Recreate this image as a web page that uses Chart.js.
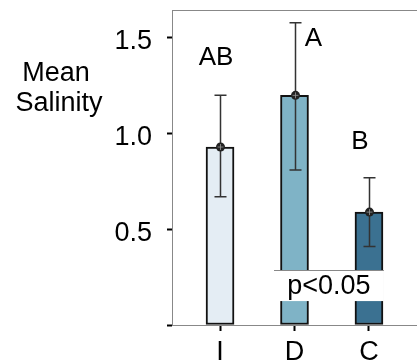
<!DOCTYPE html>
<html>
<head>
<meta charset="utf-8">
<script src="https://cdn.jsdelivr.net/npm/chart.js@4.4.0/dist/chart.umd.min.js"></script>
<style>
  html, body { margin: 0; padding: 0; background: #fff; }
  #wrap { width: 417px; height: 360px; }
</style>
</head>
<body>
<div id="wrap"><canvas id="salinityChart" width="417" height="360"></canvas></div>
<script>
// Chart data
const categories = ['I', 'D', 'C'];
const means = [0.93, 1.20, 0.59];
const errUpper = [1.20, 1.58, 0.77];
const errLower = [0.67, 0.81, 0.41];
const sigLetters = ['AB', 'A', 'B'];
const yTicks = [0, 0.5, 1.0, 1.5];
const yTitle = ['Mean', 'Salinity'];
const pLabel = 'p<0.05';

const barColors = ['#e4edf4', '#7fb3c6', '#3b7191'];
const FONT = '"Liberation Sans", Arial, sans-serif';

// Draws error bars, mean markers, letters, the y title and the p-value box
const annotations = {
    id: 'annotations',
    afterDatasetsDraw(chart) {
        const ctx = chart.ctx;
        const x = chart.scales.x;
        const y = chart.scales.y;
        const area = chart.chartArea;

        ctx.save();

        // top frame line
        ctx.strokeStyle = '#888';
        ctx.lineWidth = 1;
        ctx.beginPath();
        ctx.moveTo(area.left, area.top + 0.5);
        ctx.lineTo(area.right, area.top + 0.5);
        ctx.stroke();

        // error bars
        ctx.strokeStyle = '#333';
        ctx.lineWidth = 1.5;
        categories.forEach((c, i) => {
            const px = Math.round(x.getPixelForValue(i)) + 0.5;
            const top = y.getPixelForValue(errUpper[i]);
            const bot = y.getPixelForValue(errLower[i]);
            ctx.beginPath();
            ctx.moveTo(px, top);
            ctx.lineTo(px, bot);
            ctx.moveTo(px - 6, top);
            ctx.lineTo(px + 6, top);
            ctx.moveTo(px - 6, bot);
            ctx.lineTo(px + 6, bot);
            ctx.stroke();
        });

        // mean markers
        categories.forEach((c, i) => {
            const px = Math.round(x.getPixelForValue(i)) + 0.5;
            const py = y.getPixelForValue(means[i]);
            ctx.fillStyle = '#222';
            ctx.beginPath();
            ctx.arc(px, py, 4.5, 0, Math.PI * 2);
            ctx.fill();
            ctx.strokeStyle = '#999';
            ctx.lineWidth = 0.8;
            ctx.beginPath();
            ctx.moveTo(px - 3, py);
            ctx.lineTo(px + 3, py);
            ctx.moveTo(px, py - 3);
            ctx.lineTo(px, py + 3);
            ctx.stroke();
        });

        // significance letters
        const letterPlace = [{ dx: -4, v: 1.40 }, { dx: 19, v: 1.50 }, { dx: -9, v: 0.96 }];
        ctx.fillStyle = '#000';
        ctx.font = '26px ' + FONT;
        ctx.textAlign = 'center';
        ctx.textBaseline = 'middle';
        sigLetters.forEach((t, i) => {
            const lp = letterPlace[i];
            ctx.fillText(t, x.getPixelForValue(i) + lp.dx, y.getPixelForValue(lp.v) + 1);
        });

        // p-value box
        const bx1 = x.getPixelForValue(0.725);
        const bx2 = x.getPixelForValue(2.2);
        const by1 = Math.round(y.getPixelForValue(0.287)) + 0.5;
        const by2 = y.getPixelForValue(0.125);
        ctx.fillStyle = '#fff';
        ctx.fillRect(bx1, by1, bx2 - bx1, by2 - by1);
        ctx.strokeStyle = '#888';
        ctx.lineWidth = 1;
        ctx.beginPath();
        ctx.moveTo(bx1, by1);
        ctx.lineTo(bx2, by1);
        ctx.stroke();
        ctx.fillStyle = '#000';
        ctx.font = '27px ' + FONT;
        ctx.fillText(pLabel, (bx1 + bx2) / 2, (by1 + by2) / 2 + 1);

        // horizontal y-axis title
        ctx.font = '27px ' + FONT;
        ctx.fillText(yTitle[0], 56, 74);
        ctx.fillText(yTitle[1], 59, 104);

        ctx.restore();
    }
};

function noPadding(scale) {
    scale.paddingTop = 0;
    scale.paddingBottom = 0;
    scale.paddingLeft = 0;
    scale.paddingRight = 0;
}

new Chart(document.getElementById('salinityChart').getContext('2d'), {
    type: 'bar',
    data: {
        datasets: [{
            data: categories.map((c, i) => ({ x: i, y: means[i] })),
            backgroundColor: barColors,
            borderColor: '#111',
            borderWidth: 2,
            borderSkipped: false,
            barThickness: 28
        }]
    },
    options: {
        responsive: false,
        animation: false,
        layout: { padding: { top: 10, right: 0, bottom: 0, left: 0 } },
        plugins: {
            legend: { display: false },
            tooltip: { enabled: false }
        },
        scales: {
            x: {
                type: 'linear',
                offset: false,
                min: -0.645,
                max: 2.645,
                afterFit: (scale) => { scale.height = 35; noPadding(scale); },
                afterBuildTicks: (scale) => {
                    scale.ticks = categories.map((c, i) => ({ value: i }));
                },
                grid: {
                    offset: false,
                    drawOnChartArea: false,
                    tickLength: 6,
                    tickColor: '#000',
                    tickWidth: 2
                },
                border: { color: '#888', width: 1 },
                ticks: {
                    padding: 5,
                    color: '#000',
                    font: { family: FONT, size: 27 },
                    callback: (v) => categories[v]
                }
            },
            y: {
                min: 0,
                max: 1.646,
                afterFit: (scale) => { scale.width = 172; noPadding(scale); },
                afterBuildTicks: (scale) => {
                    scale.ticks = yTicks.map(v => ({ value: v }));
                },
                grid: {
                    drawOnChartArea: false,
                    tickLength: 5,
                    tickColor: '#000',
                    tickWidth: 2
                },
                border: { color: '#888', width: 1 },
                ticks: {
                    padding: 15,
                    labelOffset: 4,
                    color: '#000',
                    font: { family: FONT, size: 27 },
                    callback: (v) => v === 0 ? '' : v.toFixed(1)
                }
            }
        }
    },
    plugins: [annotations]
});
</script>
</body>
</html>
